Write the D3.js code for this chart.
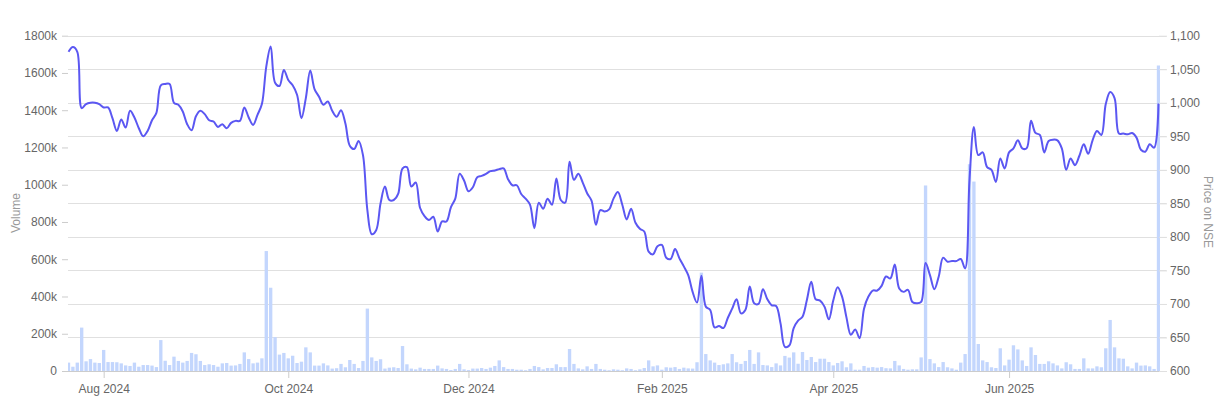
<!DOCTYPE html>
<html>
	<head>
		<script type="text/javascript" src="https://cdn.jsdelivr.net/npm/d3@7"></script>
		<style type="text/css">
			body {
				margin: 0;
				background: #fff;
			}
			svg text {
				font-family: Arial, "Liberation Sans", sans-serif;
			}
		</style>
	</head>
	<body>
		<script type="text/javascript">
			/*
			*	Trading calendar: weekdays between the two dates, less exchange holidays
			*/
			var firstDay = "2024-07-22";
			var lastDay = "2025-07-18";
			var holidays = ["2024-08-15", "2024-10-02", "2024-11-15", "2024-11-20", "2024-12-25",
				"2025-02-26", "2025-03-14", "2025-03-31", "2025-04-10", "2025-04-14", "2025-04-18", "2025-05-01"];
			var specialSessions = ["2025-02-01"];

			// daily traded volume (shares)
			var volume = [
				45000, 23000, 45000, 233000, 52000, 64000, 45000, 43000, 113000, 48000,
				48000, 47000, 41000, 30000, 27000, 45000, 23000, 32000, 32000, 29000,
				21000, 166000, 55000, 32000, 77000, 54000, 45000, 54000, 97000, 90000,
				54000, 32000, 36000, 32000, 23000, 41000, 43000, 29000, 30000, 38000,
				100000, 64000, 41000, 45000, 68000, 644000, 447000, 182000, 88000, 97000,
				68000, 82000, 43000, 50000, 127000, 100000, 29000, 29000, 41000, 30000,
				13000, 15000, 38000, 20000, 59000, 38000, 16000, 54000, 335000, 73000,
				54000, 63000, 13000, 18000, 20000, 16000, 134000, 36000, 13000, 9000,
				18000, 11000, 11000, 11000, 29000, 14000, 11000, 5000, 11000, 38000,
				9000, 5000, 13000, 13000, 16000, 11000, 18000, 27000, 57000, 21000,
				11000, 11000, 7000, 7000, 4000, 11000, 27000, 21000, 9000, 16000,
				16000, 36000, 21000, 21000, 118000, 38000, 14000, 9000, 25000, 11000,
				38000, 11000, 7000, 4000, 9000, 7000, 4000, 14000, 11000, 4000,
				9000, 16000, 57000, 25000, 30000, 7000, 20000, 18000, 21000, 11000,
				18000, 14000, 13000, 47000, 528000, 91000, 57000, 45000, 32000, 36000,
				41000, 91000, 47000, 38000, 54000, 113000, 38000, 100000, 32000, 30000,
				21000, 41000, 30000, 81000, 72000, 100000, 39000, 102000, 59000, 75000,
				48000, 66000, 66000, 48000, 30000, 43000, 52000, 20000, 41000, 7000,
				7000, 27000, 18000, 21000, 18000, 21000, 15000, 14000, 54000, 30000,
				11000, 7000, 9000, 9000, 73000, 996000, 64000, 41000, 21000, 48000,
				20000, 14000, 7000, 45000, 91000, 1110000, 1017000, 145000, 57000, 48000,
				20000, 16000, 122000, 30000, 61000, 138000, 116000, 57000, 27000, 127000,
				86000, 38000, 38000, 52000, 41000, 30000, 14000, 47000, 36000, 11000,
				11000, 68000, 14000, 14000, 25000, 20000, 122000, 274000, 127000, 68000,
				66000, 25000, 14000, 45000, 29000, 30000, 25000, 11000, 1640000
			];

			// closing price on NSE
			var price = [
				1076, 1083, 1076, 992, 998, 1000, 1000, 998, 993, 993,
				977, 958, 975, 963, 988, 978, 962, 950, 958, 974,
				985, 1026, 1028, 1028, 1000, 997, 987, 968, 959, 980,
				988, 983, 974, 972, 964, 968, 962, 970, 973, 973,
				993, 978, 967, 982, 998, 1054, 1084, 1030, 1025, 1049,
				1034, 1026, 1012, 977, 1007, 1048, 1020, 1009, 997, 1002,
				988, 979, 989, 969, 936, 931, 943, 922, 840, 804,
				810, 850, 875, 855, 855, 864, 902, 904, 875, 881,
				843, 831, 825, 830, 808, 823, 823, 844, 857, 894,
				884, 868, 874, 889, 891, 894, 898, 899, 901, 902,
				886, 877, 877, 864, 857, 848, 813, 851, 842, 857,
				848, 887, 855, 851, 912, 885, 894, 881, 865, 854,
				818, 840, 838, 841, 857, 867, 848, 826, 842, 821,
				812, 808, 778, 774, 786, 788, 769, 767, 782, 768,
				756, 743, 718, 702, 742, 696, 691, 665, 667, 664,
				679, 693, 707, 686, 691, 726, 701, 700, 722, 707,
				698, 697, 671, 636, 638, 664, 675, 681, 706, 733,
				707, 705, 696, 677, 705, 725, 711, 680, 654, 662,
				649, 693, 711, 720, 720, 727, 741, 738, 759, 723,
				718, 721, 703, 701, 703, 761, 743, 722, 741, 769,
				763, 764, 764, 767, 753, 885, 964, 922, 926, 904,
				900, 882, 917, 902, 926, 932, 944, 932, 932, 973,
				955, 952, 926, 943, 945, 944, 932, 900, 917, 907,
				921, 938, 924, 944, 958, 952, 998, 1016, 1007, 954,
				954, 953, 955, 948, 930, 927, 938, 933, 999
			];

			var volumeTicks = [0, 200000, 400000, 600000, 800000, 1000000, 1200000, 1400000, 1600000, 1800000];
			var priceTicks = [600, 650, 700, 750, 800, 850, 900, 950, 1000, 1050, 1100];
			var monthTicks = ["2024-08-01", "2024-10-01", "2024-12-02", "2025-02-01", "2025-04-01", "2025-06-02"];

			var parseDay = d3.timeParse("%Y-%m-%d");
			var fmtDay = d3.timeFormat("%Y-%m-%d");

			// build the list of sessions
			var days = d3.timeDay.range(parseDay(firstDay), d3.timeDay.offset(parseDay(lastDay), 1))
				.filter(function(d) {
					var s = fmtDay(d);
					if (specialSessions.indexOf(s) >= 0) return true;
					return d.getDay() != 0 && d.getDay() != 6 && holidays.indexOf(s) < 0;
				})
				.map(fmtDay);

			var width = 1223;
			var height = 397;
			// note: "top" is taken by window.top
			var plotLeft = 68.5, plotRight = 1158.5, plotTop = 35.7, plotBottom = 371;

			var svg = d3.select("body")
				.append("svg")
				.attr("width", width)
				.attr("height", height);

			var x = d3.scalePoint()
				.domain(days)
				.range([plotLeft, plotRight]);

			var yVol = d3.scaleLinear()
				.domain([0, 1800000])
				.range([plotBottom, plotTop]);

			var yPrice = d3.scaleLinear()
				.domain([600, 1100])
				.range([plotBottom, plotTop]);

			// gridlines come from the price axis
			svg.append("g")
				.selectAll("line")
				.data(priceTicks)
				.enter()
				.append("line")
				.attr("x1", plotLeft - 0.5)
				.attr("x2", plotRight + 8)
				.attr("y1", function(d) { return Math.round(yPrice(d)) + 0.5; })
				.attr("y2", function(d) { return Math.round(yPrice(d)) + 0.5; })
				.attr("stroke", function(d) { return d == 600 ? "#cccccc" : "#e0e0e0"; });

			svg.append("clipPath")
				.attr("id", "plot")
				.append("rect")
				.attr("x", plotLeft - 0.5)
				.attr("y", 0)
				.attr("width", plotRight - plotLeft + 2)
				.attr("height", plotBottom);

			var barW = x.step() * 0.76;

			svg.append("g")
				.attr("clip-path", "url(#plot)")
				.selectAll("rect")
				.data(volume)
				.enter()
				.append("rect")
				.attr("x", function(d, i) { return x(days[i]) - barW / 2; })
				.attr("y", function(d) { return yVol(d); })
				.attr("width", barW)
				.attr("height", function(d) { return plotBottom - yVol(d); })
				.attr("fill", "#c3d6fd");

			var line = d3.line()
				.x(function(d, i) { return x(days[i]); })
				.y(function(d) { return yPrice(d); })
				.curve(d3.curveCatmullRom.alpha(0.5));

			svg.append("path")
				.datum(price)
				.attr("d", line)
				.attr("fill", "none")
				.attr("stroke", "#5b57f2")
				.attr("stroke-width", 2);

			// left axis - volume
			var axL = svg.append("g")
				.attr("transform", "translate(" + (plotLeft - 0.5) + ",0)")
				.call(d3.axisLeft(yVol)
					.tickValues(volumeTicks)
					.tickSize(6)
					.tickPadding(5)
					.tickFormat(function(d) { return d == 0 ? "0" : (d / 1000) + "k"; }));
			axL.select(".domain").remove();

			// right axis - price
			var axR = svg.append("g")
				.attr("transform", "translate(" + (plotRight + 0.5) + ",0)")
				.call(d3.axisRight(yPrice)
					.tickValues(priceTicks)
					.tickSize(8)
					.tickPadding(3)
					.tickFormat(d3.format(",")));
			axR.select(".domain").remove();

			// bottom axis - months
			var axB = svg.append("g")
				.attr("transform", "translate(0," + plotBottom + ")")
				.call(d3.axisBottom(x)
					.tickValues(monthTicks)
					.tickSize(7)
					.tickPadding(6)
					.tickFormat(function(d) { return d3.timeFormat("%b %Y")(parseDay(d)); }));
			axB.select(".domain").remove();

			svg.selectAll(".tick line").attr("stroke", "#cccccc");
			axR.selectAll(".tick line").attr("stroke", "#e0e0e0");
			svg.selectAll(".tick text")
				.attr("fill", "#666")
				.attr("font-size", "12px")
				.attr("font-family", "Arial, 'Liberation Sans', sans-serif");

			svg.append("text")
				.text("Volume")
				.attr("transform", "translate(20,213) rotate(-90)")
				.attr("text-anchor", "middle")
				.attr("fill", "#999")
				.attr("font-size", "12px");

			svg.append("text")
				.text("Price on NSE")
				.attr("transform", "translate(1204,212) rotate(90)")
				.attr("text-anchor", "middle")
				.attr("fill", "#999")
				.attr("font-size", "12px");
		</script>
	</body>
</html>
